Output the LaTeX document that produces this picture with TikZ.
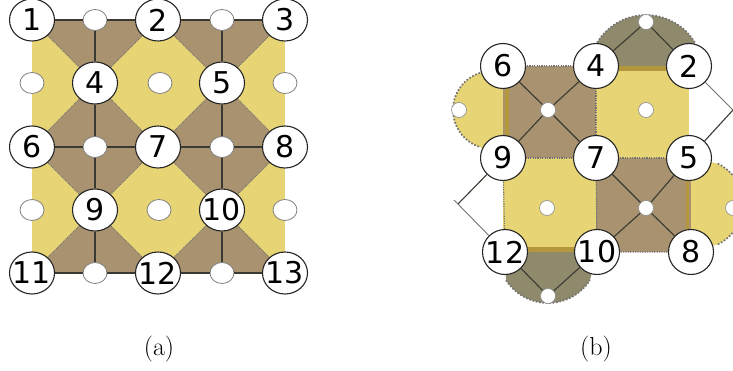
\documentclass[tikz,border=0pt]{standalone}
\usepackage{fontspec}
\setsansfont{DejaVu Sans}
\usepackage{xcolor}
\usetikzlibrary{positioning,calc,backgrounds,shapes.geometric}
\definecolor{faceYellow}{HTML}{E6D475}
\definecolor{faceBrown}{HTML}{A8926F}
\definecolor{faceOlive}{HTML}{908A6C}
\definecolor{faceBand}{HTML}{B4963C}
\definecolor{edgeDark}{HTML}{3A3A32}

\begin{document}
\begin{tikzpicture}[
  x=1pt,y=1pt,
  on grid,
  vnode/.style={draw=black!85,fill=white,ellipse,line width=1.1pt,inner sep=-10pt,
    minimum width=45pt,minimum height=42pt,font=\sffamily\fontsize{30}{30}\selectfont},
  wnode/.style={vnode,minimum height=45pt},
  enode/.style={draw=black!50,fill=white,ellipse,line width=0.8pt,inner sep=0pt,
    minimum width=24pt,minimum height=21pt},
  fnode/.style={draw=black!45,fill=white,circle,line width=0.6pt,inner sep=0pt,
    minimum size=15pt},
  edg/.style={edgeDark,line width=1.1pt},
  lgt/.style={black!55,line width=0.9pt},
  dline/.style={draw=black!55,line width=0.8pt,dash pattern=on 1pt off 1pt},
  bline/.style={draw=black!55,line width=1.1pt,dash pattern=on 1.2pt off 1.2pt},
  sdot/.style={draw=black!55,line width=1.7pt,dash pattern=on 1.7pt off 1.7pt},
  lbl/.style={font=\fontsize{26}{26}\selectfont}
]
  \path[use as bounding box,clip] (0,0) rectangle (733,370);

  % --- panel a: vertices ---
  \node[vnode] (a1) at (32,350) {1};
  \node[vnode,right=126pt of a1] (a2) {2};
  \node[vnode,right=127pt of a2] (a3) {3};
  \node[vnode,below=127pt of a1] (a6) {6};
  \node[vnode,right=126pt of a6] (a7) {7};
  \node[vnode,right=127pt of a7] (a8) {8};
  \node[vnode,below=126pt of a6] (a11) {11};
  \node[vnode,right=126pt of a11] (a12) {12};
  \node[vnode,right=127pt of a12] (a13) {13};
  \node[vnode,below right=63pt and 63pt of a1] (a4) {4};
  \node[vnode,right=127pt of a4] (a5) {5};
  \node[vnode,below right=63pt and 63pt of a6] (a9) {9};
  \node[vnode,right=127pt of a9] (a10) {10};

  % --- panel a: small nodes ---
  \node[enode,right=63pt of a1] (e12) {};
  \node[enode,right=64pt of a2] (e23) {};
  \node[enode,below=63pt of a1] (e16) {};
  \node[enode,right=65pt of a4] (e45) {};
  \node[enode,right=63pt of a5] (e58) {};
  \node[enode,right=63pt of a6] (e67) {};
  \node[enode,right=64pt of a7] (e78) {};
  \node[enode,below=63pt of a6] (e61) {};
  \node[enode,right=64pt of a9] (e90) {};
  \node[enode,right=63pt of a10] (e03) {};
  \node[enode,right=63pt of a11] (e11) {};
  \node[enode,right=64pt of a12] (e13) {};

  % --- panel a: faces ---
  \begin{scope}[on background layer]
    \fill[faceYellow] (a1.center) rectangle (a13.center);
    \fill[faceBrown] (a1.center) -- (a4.center) -- (a2.center) -- (a5.center) -- (a3.center) -- cycle;
    \draw[dline] (a1.center) -- (a4.center) -- (a2.center) -- (a5.center) -- (a3.center);
    \filldraw[fill=faceBrown,dline] (a6.center) -- (a4.center) -- (a7.center) -- (a9.center) -- cycle;
    \filldraw[fill=faceBrown,dline] (a7.center) -- (a5.center) -- (a8.center) -- (a10.center) -- cycle;
    \fill[faceBrown] (a11.center) -- (a9.center) -- (a12.center) -- (a10.center) -- (a13.center) -- cycle;
    \draw[dline] (a11.center) -- (a9.center) -- (a12.center) -- (a10.center) -- (a13.center);
  \end{scope}

  % --- panel a: edges ---
  \draw[edg] (a1)--(e12);
  \draw[edg] (e12)--(a2);
  \draw[edg] (a2)--(e23);
  \draw[edg] (e23)--(a3);
  \draw[edg] (e12)--(a4);
  \draw[edg] (e23)--(a5);
  \draw[edg] (a6)--(e67);
  \draw[edg] (e67)--(a7);
  \draw[edg] (a7)--(e78);
  \draw[edg] (e78)--(a8);
  \draw[edg] (a4)--(e67);
  \draw[edg] (e67)--(a9);
  \draw[edg] (a5)--(e78);
  \draw[edg] (e78)--(a10);
  \draw[edg] (a11)--(e11);
  \draw[edg] (e11)--(a12);
  \draw[edg] (a12)--(e13);
  \draw[edg] (e13)--(a13);
  \draw[edg] (a9)--(e11);
  \draw[edg] (a10)--(e13);

  % --- panel b: vertices ---
  \node[wnode] (b6) at (503,304) {6};
  \node[wnode,right=93pt of b6] (b4) {4};
  \node[wnode,right=93pt of b4] (b2) {2};
  \node[wnode,below=92pt of b6] (b9) {9};
  \node[wnode,right=93pt of b9] (b7) {7};
  \node[wnode,right=93pt of b7] (b5) {5};
  \node[wnode,below right=94pt and 2pt of b9] (b12) {12};
  \node[wnode,right=92pt of b12] (b10) {10};
  \node[wnode,right=94pt of b10] (b8) {8};

  % --- panel b: small nodes ---
  \node[fnode] (ftop) at (646,348) {};
  \node[fnode] (fleft) at (459,260) {};
  \node[fnode] (fup) at (548,260) {};
  \node[fnode] (fmid) at (646,260) {};
  \node[fnode] (fdown) at (547,162) {};
  \node[fnode] (flow) at (646,162) {};
  \node[fnode] (fright) at (733,162) {};
  \node[fnode] (fbot) at (548,74) {};
  \coordinate (cright) at (733,260);
  \coordinate (cleft) at (458,166);
  \coordinate (ctick) at (454,170);

  % --- panel b: faces ---
  \begin{scope}[on background layer]
    \coordinate (ctop) at (646,298);
    \coordinate (cbot) at (548,117);
    \coordinate (clft) at (492,260);
    \coordinate (crgt) at (698,166);
    \fill[faceOlive] (b4.center) -- ($(ctop)+(149:57)$) arc[start angle=149,end angle=31,radius=57pt] -- (b2.center) -- cycle;
    \draw[sdot] ($(ctop)+(149:57)$) arc[start angle=149,end angle=31,radius=57pt];
    \fill[faceOlive] (b12.center) -- ($(cbot)+(213:50)$) arc[start angle=213,end angle=327,radius=50pt] -- (b10.center) -- cycle;
    \draw[sdot] ($(cbot)+(213:50)$) arc[start angle=213,end angle=327,radius=50pt];
    \fill[faceYellow] (b6.center) -- ($(clft)+(108:39)$) arc[start angle=108,end angle=252,radius=39pt] -- (b9.center) -- cycle;
    \draw[sdot] ($(clft)+(108:39)$) arc[start angle=108,end angle=252,radius=39pt];
    \fill[faceYellow] (b5.center) -- ($(crgt)+(64:45)$) arc[start angle=64,end angle=-64,radius=45pt] -- (b8.center) -- cycle;
    \draw[sdot] ($(crgt)+(64:45)$) arc[start angle=64,end angle=-64,radius=45pt];

    \fill[faceYellow] (b4.center) rectangle (b5.center);
    \fill[faceYellow] (b9.center) rectangle (b10.center);
    \fill[faceBrown] (b6.center) rectangle (b7.center);
    \fill[faceBrown] (b7.center) rectangle (b8.center);

    \fill[faceBand] (b4.center) rectangle ($(b2.center)+(0,-5)$);
    \fill[faceBand] ($(b6.center)+(2,0)$) rectangle ($(b9.center)+(6,0)$);
    \fill[faceBand] (b5.center) rectangle ($(b8.center)+(-5,0)$);
    \fill[faceBand] (b12.center) rectangle ($(b10.center)+(0,5)$);

    \draw[bline] (b6.center) -- (b4.center) -- (b7.center) -- (b9.center);
    \draw[bline] (b9.center) -- (b12.center);
    \draw[bline] (b7.center) -- (b10.center) -- (b8.center);
    \draw[bline] (b7.center) -- (b5.center);
  \end{scope}

  % --- panel b: edges ---
  \draw[edg] (b6)--(fup);
  \draw[edg] (fup)--(b7);
  \draw[edg] (b4)--(fup);
  \draw[edg] (fup)--(b9);
  \draw[edg] (b7)--(flow);
  \draw[edg] (flow)--(b8);
  \draw[edg] (b5)--(flow);
  \draw[edg] (flow)--(b10);
  \draw[edg] (b4)--(ftop);
  \draw[edg] (ftop)--(b2);
  \draw[edg] (b12)--(fbot);
  \draw[edg] (fbot)--(b10);
  \draw[lgt] (b2)--(cright);
  \draw[edg] (cright)--(b5);
  \draw[edg] (b9)--(cleft);
  \draw[lgt] (b12)--(ctick);

  % captions
  \node[lbl] (capa) at (159,21) {(a)};
  \node[lbl] (capb) at (596,21) {(b)};
\end{tikzpicture}
\end{document}
